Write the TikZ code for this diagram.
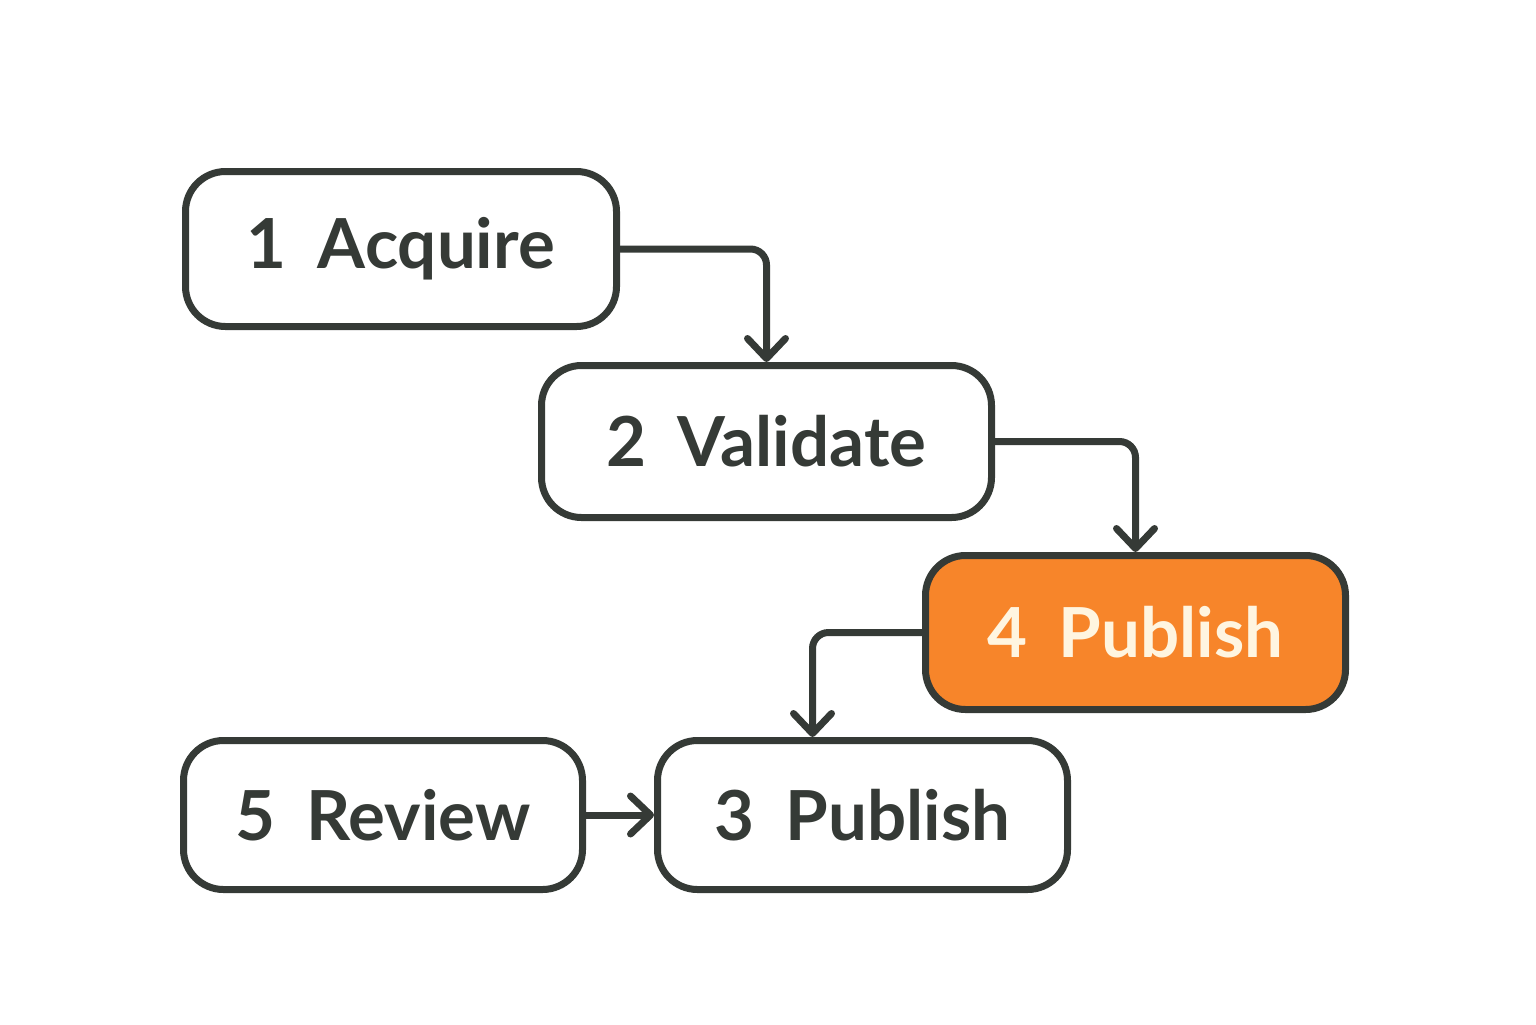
\documentclass[tikz,border=0pt]{standalone}
\usepackage{fontspec}
\setmainfont{Lato}
\usetikzlibrary{positioning, arrows.meta}
\definecolor{dink}{HTML}{353A36}
\definecolor{dorange}{HTML}{F7852A}
\definecolor{dcream}{HTML}{FFF5E0}
\tikzset{dstage/.style={draw=dink, line width=3.5pt, rounded corners=20pt, fill=white, text=dink, font=\bfseries\fontsize{34.5}{40}\selectfont, align=center}}
\tikzset{dstagehl/.style={dstage, fill=dorange, text=dcream}}
\tikzset{arr3/.style={draw=dink, line width=3.5pt, rounded corners=8pt, -{Straight Barb[length=10pt, width=19pt, round]}}}
\newcommand{\stepname}[2]{#1\hspace{0.45em}#2}

\begin{document}
\begin{tikzpicture}[x=0.5pt, y=-0.5pt]
			\useasboundingbox (0,0) rectangle (1536,1024);
			\node[dstage, minimum width=215.5pt, minimum height=77.5pt] at (401,249) (A) {\stepname{1}{Acquire}};
			\node[dstage, minimum width=225pt, minimum height=76pt, below right=16pt and -41pt of A] (V) {\stepname{2}{Validate}};
			\node[dstagehl, minimum width=210pt, minimum height=77pt, below right=15.5pt and -36.5pt of V] (P4) {\stepname{4}{Publish}};
			\node[dstage, minimum width=205pt, minimum height=74.5pt, below left=12pt and -74.5pt of P4] (P3) {\stepname{3}{Publish}};
			\node[dstage, minimum width=199.5pt, minimum height=74.5pt, left=34pt of P3] (R) {\stepname{5}{Review}};
			%
			\draw[arr3] (A.east) -| (V.north);
			\draw[arr3] (V.east) -| (P4.north);
			\draw[arr3] (P4.west) -| ([xshift=-25pt]P3.north);
			\draw[arr3] (R) -- (P3);
		\end{tikzpicture}
\end{document}
